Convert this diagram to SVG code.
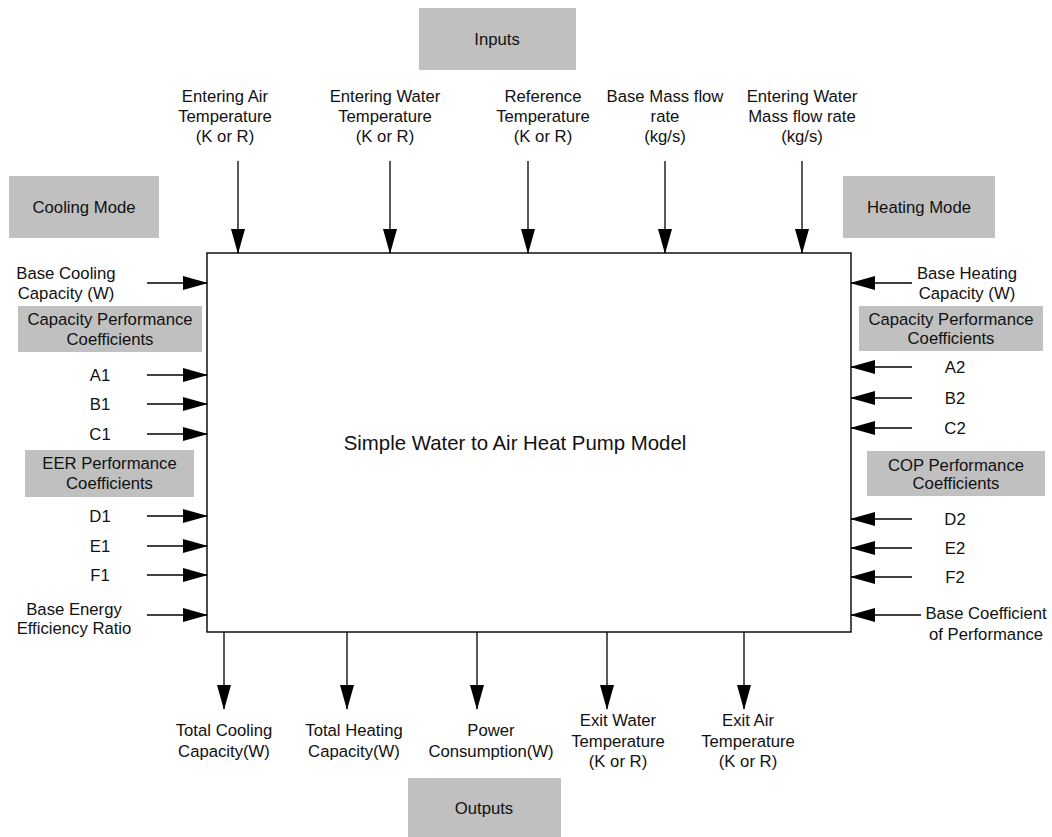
<svg xmlns="http://www.w3.org/2000/svg" width="1052" height="837" viewBox="0 0 1052 837">
<style>
text{font-family:"Liberation Sans",Arial,sans-serif;font-size:16.7px;fill:#111;text-anchor:middle}
.title{font-size:20.4px}
.box{fill:#c0c0c0;stroke:none}
.main{fill:#fff;stroke:#000;stroke-width:1.4}
.c{stroke:#000;stroke-width:1.3;fill:none;marker-end:url(#ah)}
</style>
<defs>
<marker id="ah" markerUnits="userSpaceOnUse" markerWidth="25" markerHeight="14" refX="24" refY="7" orient="auto">
<path d="M0,0 L25,7 L0,14 Z" fill="#000"/>
</marker>
</defs>
<rect width="1052" height="837" fill="#fff"/>
<g id="model"><rect class="main" x="207" y="253" width="644" height="379"/><text class="title" x="515" y="450">Simple Water to Air Heat Pump Model</text></g>
<g id="inputs"><rect class="box" x="419" y="8" width="157" height="62"/><text x="497" y="45">Inputs</text></g>
<g id="outputs"><rect class="box" x="408" y="778" width="153" height="59"/><text x="484" y="814">Outputs</text></g>
<g id="cooling-mode"><rect class="box" x="9" y="176" width="150" height="62"/><text x="84" y="213">Cooling Mode</text></g>
<g id="heating-mode"><rect class="box" x="843" y="176" width="152" height="62"/><text x="919" y="213">Heating Mode</text></g>
<g id="in-eat"><text x="225" y="102">Entering Air</text><text x="225" y="122">Temperature</text><text x="225" y="142">(K or R)</text></g>
<g id="in-ewt"><text x="385" y="102">Entering Water</text><text x="385" y="122">Temperature</text><text x="385" y="142">(K or R)</text></g>
<g id="in-ref"><text x="543" y="102">Reference</text><text x="543" y="122">Temperature</text><text x="543" y="142">(K or R)</text></g>
<g id="in-bmf"><text x="665" y="102">Base Mass flow</text><text x="665" y="122">rate</text><text x="665" y="142">(kg/s)</text></g>
<g id="in-ewm"><text x="802" y="102">Entering Water</text><text x="802" y="122">Mass flow rate</text><text x="802" y="142">(kg/s)</text></g>
<g id="base-cooling"><text x="66" y="279">Base Cooling</text><text x="66" y="299">Capacity (W)</text></g>
<g id="cap-coef-1"><rect class="box" x="18" y="306" width="184" height="46"/><text x="110" y="325">Capacity Performance</text><text x="110" y="345">Coefficients</text></g>
<g id="a1"><text x="100" y="381">A1</text></g>
<g id="b1"><text x="100" y="410">B1</text></g>
<g id="c1"><text x="100" y="440">C1</text></g>
<g id="eer-coef"><rect class="box" x="25" y="450" width="169" height="47"/><text x="109.5" y="469">EER Performance</text><text x="109.5" y="489">Coefficients</text></g>
<g id="d1"><text x="100" y="522">D1</text></g>
<g id="e1"><text x="100" y="552">E1</text></g>
<g id="f1"><text x="100" y="581">F1</text></g>
<g id="base-eer"><text x="74" y="615">Base Energy</text><text x="74" y="634">Efficiency Ratio</text></g>
<g id="base-heating"><text x="967" y="279">Base Heating</text><text x="967" y="299">Capacity (W)</text></g>
<g id="cap-coef-2"><rect class="box" x="859" y="306" width="184" height="45"/><text x="951" y="325">Capacity Performance</text><text x="951" y="344">Coefficients</text></g>
<g id="a2"><text x="955" y="373">A2</text></g>
<g id="b2"><text x="955" y="404">B2</text></g>
<g id="c2"><text x="955" y="434">C2</text></g>
<g id="cop-coef"><rect class="box" x="867" y="451" width="178" height="45"/><text x="956" y="471">COP Performance</text><text x="956" y="489">Coefficients</text></g>
<g id="d2"><text x="955" y="525">D2</text></g>
<g id="e2"><text x="955" y="554">E2</text></g>
<g id="f2"><text x="955" y="583">F2</text></g>
<g id="base-cop"><text x="986" y="619">Base Coefficient</text><text x="986" y="640">of Performance</text></g>
<g id="out-tcc"><text x="224" y="736">Total Cooling</text><text x="224" y="757">Capacity(W)</text></g>
<g id="out-thc"><text x="354" y="736">Total Heating</text><text x="354" y="757">Capacity(W)</text></g>
<g id="out-pow"><text x="491" y="736">Power</text><text x="491" y="757">Consumption(W)</text></g>
<g id="out-ewt"><text x="618" y="726">Exit Water</text><text x="618" y="747">Temperature</text><text x="618" y="767">(K or R)</text></g>
<g id="out-eat"><text x="748" y="726">Exit Air</text><text x="748" y="747">Temperature</text><text x="748" y="767">(K or R)</text></g>
<g id="connectors">
<line class="c" x1="238" y1="161" x2="238" y2="253"/>
<line class="c" x1="390" y1="161" x2="390" y2="253"/>
<line class="c" x1="528" y1="161" x2="528" y2="253"/>
<line class="c" x1="665" y1="161" x2="665" y2="253"/>
<line class="c" x1="802" y1="161" x2="802" y2="253"/>
<line class="c" x1="147" y1="283" x2="207" y2="283"/>
<line class="c" x1="147" y1="375" x2="207" y2="375"/>
<line class="c" x1="147" y1="404" x2="207" y2="404"/>
<line class="c" x1="147" y1="434" x2="207" y2="434"/>
<line class="c" x1="147" y1="516" x2="207" y2="516"/>
<line class="c" x1="147" y1="546" x2="207" y2="546"/>
<line class="c" x1="147" y1="575" x2="207" y2="575"/>
<line class="c" x1="147" y1="615" x2="207" y2="615"/>
<line class="c" x1="912" y1="283" x2="851" y2="283"/>
<line class="c" x1="912" y1="367" x2="851" y2="367"/>
<line class="c" x1="912" y1="398" x2="851" y2="398"/>
<line class="c" x1="912" y1="428" x2="851" y2="428"/>
<line class="c" x1="912" y1="519" x2="851" y2="519"/>
<line class="c" x1="912" y1="548" x2="851" y2="548"/>
<line class="c" x1="912" y1="577" x2="851" y2="577"/>
<line class="c" x1="921" y1="615" x2="851" y2="615"/>
<line class="c" x1="224" y1="632" x2="224" y2="709"/>
<line class="c" x1="347" y1="632" x2="347" y2="709"/>
<line class="c" x1="477" y1="632" x2="477" y2="709"/>
<line class="c" x1="607" y1="632" x2="607" y2="709"/>
<line class="c" x1="744" y1="632" x2="744" y2="709"/>
</g>
</svg>
